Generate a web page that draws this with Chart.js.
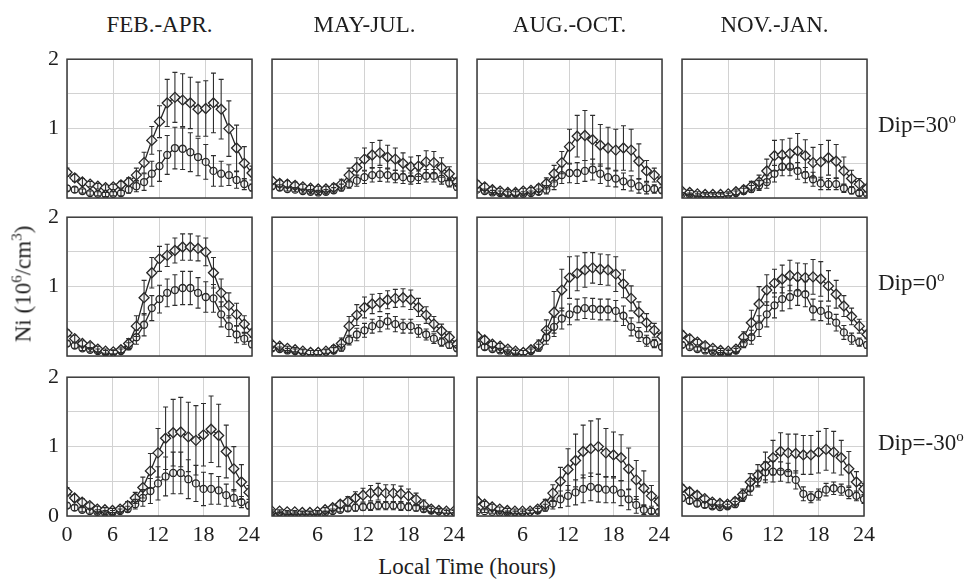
<!DOCTYPE html>
<html>
<head>
<meta charset="utf-8">
<script src="https://cdn.jsdelivr.net/npm/chart.js@4/dist/chart.umd.min.js"></script>
<style>
  body { margin: 0; background: #fff; }
  #page { position: relative; width: 970px; height: 579px; overflow: hidden; font-family: 'Liberation Serif', 'Times New Roman', serif; color: #1e1e1e; }
  .panel { position: absolute; }
  .lbl { position: absolute; font-size: 23px; white-space: nowrap; line-height: 1; }
  .lbl sup { font-size: 15px; vertical-align: 9px; }
</style>
</head>
<body>
<div id="page"></div>
<script>
// local time, hours
var hours = [0,1,2,3,4,5,6,7,8,9,10,11,12,13,14,15,16,17,18,19,20,21,22,23,24];
var seasons = ['FEB.-APR.', 'MAY-JUL.', 'AUG.-OCT.', 'NOV.-JAN.'];
var dips = ['30', '0', '-30'];

// Dip = 30
var feb30Hi    = [0.37,0.29,0.23,0.20,0.17,0.15,0.16,0.19,0.23,0.33,0.51,0.83,1.10,1.37,1.45,1.41,1.37,1.28,1.29,1.37,1.28,1.00,0.72,0.50,0.36];
var feb30HiErr = [0.06,0.05,0.05,0.04,0.04,0.04,0.04,0.05,0.06,0.10,0.15,0.20,0.23,0.34,0.36,0.38,0.37,0.39,0.40,0.43,0.43,0.40,0.33,0.24,0.10];
var feb30Lo    = [0.14,0.12,0.10,0.07,0.06,0.05,0.06,0.07,0.12,0.17,0.23,0.35,0.46,0.62,0.72,0.71,0.66,0.59,0.52,0.39,0.35,0.33,0.26,0.20,0.15];
var feb30LoErr = [0.04,0.04,0.03,0.03,0.03,0.03,0.03,0.04,0.05,0.08,0.12,0.18,0.22,0.28,0.30,0.30,0.28,0.27,0.25,0.22,0.18,0.15,0.12,0.08,0.05];

var may30Hi    = [0.25,0.21,0.20,0.18,0.16,0.14,0.13,0.13,0.15,0.20,0.33,0.44,0.56,0.62,0.65,0.59,0.56,0.50,0.45,0.46,0.52,0.51,0.44,0.35,0.23];
var may30HiErr = [0.05,0.05,0.05,0.05,0.04,0.04,0.04,0.04,0.05,0.07,0.10,0.14,0.16,0.18,0.18,0.17,0.16,0.15,0.14,0.15,0.16,0.16,0.14,0.10,0.06];
var may30Lo    = [0.17,0.15,0.13,0.12,0.10,0.09,0.08,0.09,0.11,0.15,0.20,0.25,0.30,0.33,0.34,0.33,0.31,0.30,0.28,0.30,0.32,0.32,0.28,0.22,0.16];
var may30LoErr = [0.04,0.04,0.03,0.03,0.03,0.03,0.03,0.03,0.04,0.05,0.06,0.08,0.09,0.10,0.10,0.10,0.09,0.09,0.08,0.09,0.09,0.09,0.08,0.06,0.05];

var aug30Hi    = [0.20,0.16,0.12,0.10,0.08,0.08,0.10,0.11,0.14,0.21,0.35,0.51,0.74,0.89,0.90,0.84,0.76,0.72,0.69,0.72,0.69,0.53,0.39,0.33,0.25];
var aug30HiErr = [0.05,0.05,0.04,0.04,0.04,0.04,0.04,0.04,0.05,0.08,0.12,0.16,0.25,0.30,0.36,0.35,0.30,0.30,0.30,0.32,0.30,0.25,0.15,0.10,0.06];
var aug30Lo    = [0.12,0.10,0.08,0.07,0.06,0.06,0.06,0.07,0.09,0.12,0.21,0.33,0.36,0.36,0.39,0.41,0.35,0.30,0.28,0.24,0.21,0.17,0.14,0.13,0.11];
var aug30LoErr = [0.03,0.03,0.03,0.03,0.03,0.03,0.03,0.03,0.04,0.06,0.09,0.12,0.14,0.15,0.15,0.15,0.14,0.13,0.12,0.12,0.11,0.10,0.08,0.06,0.04];

var nov30Hi    = [0.10,0.08,0.06,0.05,0.05,0.05,0.06,0.09,0.12,0.17,0.23,0.39,0.61,0.62,0.64,0.68,0.61,0.51,0.52,0.58,0.53,0.39,0.28,0.20,0.14];
var nov30HiErr = [0.03,0.03,0.03,0.03,0.03,0.03,0.03,0.04,0.05,0.07,0.10,0.17,0.22,0.22,0.22,0.25,0.23,0.22,0.25,0.25,0.24,0.20,0.12,0.08,0.05];
var nov30Lo    = [0.06,0.05,0.04,0.04,0.04,0.04,0.05,0.07,0.10,0.13,0.18,0.23,0.35,0.45,0.45,0.39,0.33,0.27,0.21,0.20,0.20,0.14,0.11,0.07,0.06];
var nov30LoErr = [0.02,0.02,0.02,0.02,0.02,0.02,0.02,0.03,0.04,0.05,0.07,0.09,0.12,0.13,0.13,0.12,0.11,0.10,0.09,0.08,0.08,0.06,0.05,0.04,0.03];

// Dip = 0
var feb0Hi    = [0.33,0.25,0.18,0.15,0.10,0.07,0.06,0.09,0.18,0.43,0.84,1.20,1.40,1.45,1.52,1.57,1.57,1.55,1.50,1.20,0.91,0.73,0.60,0.46,0.33];
var feb0HiErr = [0.05,0.05,0.04,0.04,0.04,0.03,0.03,0.04,0.07,0.15,0.25,0.22,0.18,0.16,0.18,0.19,0.19,0.18,0.20,0.22,0.20,0.18,0.16,0.12,0.06];
var feb0Lo    = [0.18,0.15,0.11,0.09,0.07,0.05,0.05,0.07,0.14,0.27,0.45,0.69,0.82,0.91,0.95,0.98,0.98,0.91,0.85,0.83,0.60,0.43,0.31,0.25,0.17];
var feb0LoErr = [0.04,0.04,0.03,0.03,0.03,0.03,0.03,0.03,0.05,0.10,0.16,0.18,0.20,0.20,0.22,0.24,0.24,0.22,0.22,0.20,0.18,0.15,0.12,0.08,0.05];

var may0Hi    = [0.17,0.14,0.11,0.09,0.07,0.05,0.05,0.07,0.10,0.18,0.43,0.59,0.70,0.75,0.77,0.81,0.83,0.84,0.81,0.70,0.59,0.46,0.36,0.27,0.17];
var may0HiErr = [0.04,0.04,0.03,0.03,0.03,0.03,0.03,0.03,0.05,0.08,0.14,0.15,0.15,0.14,0.13,0.13,0.13,0.13,0.14,0.13,0.12,0.11,0.10,0.08,0.05];
var may0Lo    = [0.11,0.10,0.08,0.07,0.06,0.05,0.05,0.06,0.08,0.12,0.23,0.31,0.37,0.43,0.46,0.50,0.46,0.43,0.43,0.36,0.31,0.25,0.20,0.16,0.11];
var may0LoErr = [0.03,0.03,0.03,0.03,0.03,0.03,0.03,0.03,0.04,0.05,0.07,0.09,0.10,0.10,0.11,0.11,0.11,0.10,0.10,0.09,0.08,0.07,0.06,0.05,0.04];

var aug0Hi    = [0.29,0.23,0.17,0.14,0.10,0.07,0.05,0.09,0.16,0.37,0.63,0.95,1.13,1.19,1.24,1.27,1.25,1.24,1.18,1.04,0.83,0.63,0.48,0.37,0.28];
var aug0HiErr = [0.05,0.05,0.04,0.04,0.03,0.03,0.03,0.04,0.07,0.15,0.30,0.30,0.30,0.25,0.25,0.22,0.22,0.22,0.25,0.20,0.18,0.15,0.13,0.10,0.06];
var aug0Lo    = [0.17,0.13,0.10,0.08,0.06,0.05,0.05,0.07,0.12,0.27,0.42,0.54,0.60,0.67,0.69,0.68,0.67,0.67,0.65,0.58,0.42,0.31,0.22,0.18,0.13];
var aug0LoErr = [0.04,0.04,0.03,0.03,0.03,0.03,0.03,0.03,0.05,0.10,0.14,0.15,0.15,0.15,0.15,0.15,0.15,0.15,0.15,0.14,0.13,0.10,0.08,0.06,0.04];

var nov0Hi    = [0.31,0.25,0.20,0.15,0.11,0.08,0.07,0.10,0.27,0.48,0.75,0.95,1.05,1.11,1.16,1.14,1.13,1.14,1.11,1.01,0.89,0.72,0.57,0.43,0.31];
var nov0HiErr = [0.05,0.05,0.04,0.04,0.03,0.03,0.03,0.04,0.08,0.18,0.25,0.22,0.20,0.20,0.22,0.20,0.20,0.25,0.25,0.22,0.20,0.15,0.12,0.10,0.06];
var nov0Lo    = [0.16,0.13,0.10,0.08,0.06,0.05,0.05,0.08,0.18,0.27,0.43,0.60,0.73,0.82,0.85,0.91,0.89,0.67,0.65,0.59,0.48,0.34,0.25,0.20,0.16];
var nov0LoErr = [0.04,0.03,0.03,0.03,0.03,0.03,0.03,0.03,0.06,0.10,0.15,0.18,0.18,0.17,0.17,0.18,0.18,0.15,0.14,0.13,0.12,0.10,0.08,0.06,0.05];

// Dip = -30
var febM30Hi    = [0.35,0.26,0.20,0.15,0.10,0.09,0.08,0.10,0.15,0.26,0.41,0.65,0.91,1.12,1.20,1.21,1.14,1.09,1.17,1.25,1.16,0.93,0.68,0.49,0.34];
var febM30HiErr = [0.06,0.05,0.05,0.04,0.04,0.03,0.03,0.04,0.06,0.08,0.15,0.25,0.35,0.45,0.48,0.50,0.50,0.50,0.45,0.48,0.45,0.38,0.32,0.25,0.10];
var febM30Lo    = [0.15,0.12,0.09,0.07,0.06,0.05,0.05,0.07,0.10,0.17,0.26,0.36,0.47,0.57,0.62,0.62,0.53,0.47,0.39,0.39,0.37,0.30,0.26,0.20,0.15];
var febM30LoErr = [0.04,0.04,0.03,0.03,0.03,0.03,0.03,0.03,0.04,0.07,0.12,0.18,0.24,0.28,0.30,0.30,0.28,0.26,0.24,0.22,0.20,0.16,0.12,0.08,0.05];

var mayM30Hi    = [0.07,0.07,0.06,0.06,0.05,0.05,0.06,0.09,0.12,0.17,0.21,0.26,0.30,0.33,0.35,0.33,0.33,0.32,0.29,0.24,0.16,0.10,0.08,0.07,0.07];
var mayM30HiErr = [0.02,0.02,0.02,0.02,0.02,0.02,0.02,0.03,0.04,0.05,0.07,0.09,0.10,0.11,0.12,0.12,0.12,0.11,0.10,0.09,0.07,0.04,0.03,0.03,0.02];
var mayM30Lo    = [0.05,0.05,0.04,0.04,0.04,0.04,0.04,0.05,0.07,0.09,0.11,0.12,0.13,0.14,0.15,0.15,0.15,0.14,0.13,0.12,0.10,0.08,0.07,0.06,0.06];
var mayM30LoErr = [0.02,0.02,0.02,0.02,0.02,0.02,0.02,0.02,0.03,0.03,0.04,0.05,0.05,0.06,0.06,0.06,0.06,0.06,0.05,0.05,0.04,0.03,0.03,0.02,0.02];

var augM30Hi    = [0.22,0.17,0.13,0.10,0.08,0.07,0.07,0.07,0.10,0.17,0.33,0.50,0.67,0.80,0.93,0.97,1.00,0.91,0.88,0.84,0.68,0.52,0.40,0.29,0.21];
var augM30HiErr = [0.05,0.04,0.04,0.03,0.03,0.03,0.03,0.03,0.04,0.07,0.12,0.20,0.30,0.38,0.38,0.40,0.40,0.35,0.33,0.33,0.30,0.28,0.25,0.15,0.06];
var augM30Lo    = [0.07,0.07,0.06,0.05,0.05,0.05,0.05,0.06,0.08,0.12,0.18,0.24,0.29,0.34,0.39,0.42,0.40,0.38,0.38,0.33,0.24,0.16,0.09,0.07,0.06];
var augM30LoErr = [0.02,0.02,0.02,0.02,0.02,0.02,0.02,0.02,0.03,0.05,0.08,0.12,0.15,0.18,0.20,0.20,0.20,0.19,0.19,0.18,0.15,0.12,0.07,0.04,0.03];

var novM30Hi    = [0.40,0.35,0.30,0.25,0.20,0.18,0.17,0.21,0.31,0.49,0.59,0.72,0.84,0.93,0.91,0.90,0.88,0.88,0.92,0.96,0.92,0.84,0.68,0.49,0.39];
var novM30HiErr = [0.05,0.05,0.05,0.04,0.04,0.04,0.04,0.05,0.08,0.12,0.15,0.20,0.25,0.27,0.27,0.28,0.28,0.28,0.30,0.30,0.30,0.25,0.25,0.15,0.08];
var novM30Lo    = [0.26,0.22,0.18,0.16,0.14,0.13,0.14,0.17,0.27,0.40,0.54,0.63,0.64,0.64,0.62,0.52,0.32,0.27,0.31,0.38,0.40,0.38,0.33,0.29,0.24];
var novM30LoErr = [0.05,0.04,0.04,0.04,0.03,0.03,0.03,0.04,0.06,0.10,0.12,0.15,0.15,0.14,0.14,0.13,0.10,0.08,0.08,0.09,0.09,0.08,0.08,0.07,0.06];

// rows = dip, columns = season
var panels = [
  [[feb30Hi, feb30HiErr, feb30Lo, feb30LoErr], [may30Hi, may30HiErr, may30Lo, may30LoErr],
   [aug30Hi, aug30HiErr, aug30Lo, aug30LoErr], [nov30Hi, nov30HiErr, nov30Lo, nov30LoErr]],
  [[feb0Hi, feb0HiErr, feb0Lo, feb0LoErr], [may0Hi, may0HiErr, may0Lo, may0LoErr],
   [aug0Hi, aug0HiErr, aug0Lo, aug0LoErr], [nov0Hi, nov0HiErr, nov0Lo, nov0LoErr]],
  [[febM30Hi, febM30HiErr, febM30Lo, febM30LoErr], [mayM30Hi, mayM30HiErr, mayM30Lo, mayM30LoErr],
   [augM30Hi, augM30HiErr, augM30Lo, augM30LoErr], [novM30Hi, novM30HiErr, novM30Lo, novM30LoErr]]
];

// panel frame positions on the page
var colLeft = [67, 272, 477, 682];
var rowTop = [52, 210, 370];
var plotW = 185, plotH = 146;
var padL = 40, padR = 14, padT = 14, padB = 30;

var tickFont = { family: "'Liberation Serif', 'Times New Roman', serif", size: 22 };

// draws the vertical error bars with small caps
var errorBars = {
  id: 'errorBars',
  afterDatasetsDraw: function (chart) {
    var ctx = chart.ctx, ys = chart.scales.y, a = chart.chartArea;
    ctx.save();
    ctx.beginPath();
    ctx.rect(a.left, a.top - 1, a.right - a.left, a.bottom - a.top + 2);
    ctx.clip();
    ctx.strokeStyle = '#2e2e2e';
    ctx.lineWidth = 1.1;
    chart.data.datasets.forEach(function (ds, i) {
      var meta = chart.getDatasetMeta(i);
      meta.data.forEach(function (pt, j) {
        var v = ds.data[j].y, e = ds.errors[j];
        var top = ys.getPixelForValue(v + e), bot = ys.getPixelForValue(v - e);
        ctx.beginPath();
        ctx.moveTo(pt.x, top); ctx.lineTo(pt.x, bot);
        ctx.moveTo(pt.x - 2.5, top); ctx.lineTo(pt.x + 2.5, top);
        ctx.moveTo(pt.x - 2.5, bot); ctx.lineTo(pt.x + 2.5, bot);
        ctx.stroke();
      });
    });
    ctx.restore();
  }
};

// box round each panel
var frame = {
  id: 'frame',
  afterDraw: function (chart) {
    var ctx = chart.ctx, a = chart.chartArea;
    ctx.save();
    ctx.strokeStyle = '#3a3a3a';
    ctx.lineWidth = 1.5;
    ctx.strokeRect(a.left, a.top, a.right - a.left, a.bottom - a.top);
    ctx.restore();
  }
};

function points(arr) {
  return hours.map(function (h, i) { return { x: h, y: arr[i] }; });
}

var page = document.getElementById('page');

function makePanel(r, c) {
  var d = panels[r][c];
  var box = document.createElement('div');
  box.className = 'panel';
  box.style.left = (colLeft[c] - padL) + 'px';
  box.style.top = (rowTop[r] - padT) + 'px';
  var cv = document.createElement('canvas');
  cv.width = plotW + padL + padR;
  cv.height = plotH + padT + padB;
  box.appendChild(cv);
  page.appendChild(box);

  new Chart(cv, {
    type: 'line',
    data: {
      datasets: [
        {
          data: points(d[0]), errors: d[1],
          borderColor: '#262626', borderWidth: 1.3, tension: 0,
          pointStyle: 'rectRot', pointRadius: 5,
          pointBorderColor: '#262626', pointBackgroundColor: '#f4f4f4', pointBorderWidth: 1.3
        },
        {
          data: points(d[2]), errors: d[3],
          borderColor: '#262626', borderWidth: 1.3, tension: 0,
          pointStyle: 'circle', pointRadius: 3.5,
          pointBorderColor: '#262626', pointBackgroundColor: '#f4f4f4', pointBorderWidth: 1.3
        }
      ]
    },
    options: {
      responsive: false,
      animation: false,
      layout: { padding: { left: 0, right: padR, top: padT, bottom: 0 } },
      plugins: { legend: { display: false }, tooltip: { enabled: false } },
      scales: {
        x: {
          type: 'linear', min: 0, max: 24,
          afterFit: function (s) { s.height = padB; },
          border: { display: false },
          grid: { color: '#d2d2d2', drawTicks: false },
          ticks: {
            stepSize: 6, padding: 6, autoSkip: false, maxRotation: 0,
            color: '#1e1e1e', font: tickFont,
            callback: function (v) {
              if (r !== 2) return '';
              if (v === 0 && c !== 0) return '';
              return String(v);
            }
          }
        },
        y: {
          min: 0, max: 2,
          afterFit: function (s) { s.width = padL; },
          border: { display: false },
          grid: { color: '#d2d2d2', drawTicks: false },
          ticks: {
            stepSize: 0.5, padding: 8,
            color: '#1e1e1e', font: tickFont,
            callback: function (v) {
              if (c !== 0) return '';
              if (v === 1 || v === 2) return String(v);
              if (v === 0 && r === 2) return '0';
              return '';
            }
          }
        }
      }
    },
    plugins: [errorBars, frame]
  });
}

for (var r = 0; r < 3; r++) {
  for (var c = 0; c < 4; c++) makePanel(r, c);
}

function addLabel(html, x, y, extra) {
  var el = document.createElement('div');
  el.className = 'lbl';
  el.innerHTML = html;
  el.style.left = x + 'px';
  el.style.top = y + 'px';
  el.style.transform = extra || 'translate(-50%, -50%)';
  page.appendChild(el);
}

// season titles over the columns
seasons.forEach(function (s, c) {
  addLabel(s, colLeft[c] + plotW / 2, 24);
});

// dip labels at the right
dips.forEach(function (d, r) {
  addLabel('Dip=' + d + '<sup>o</sup>', 878, rowTop[r] + plotH / 2 - 2, 'translate(0, -50%)');
});

addLabel('Local Time (hours)', 467, 566);
addLabel('Ni (10<sup>6</sup>/cm<sup>3</sup>)', 22, 284, 'translate(-50%, -50%) rotate(-90deg)');
</script>
</body>
</html>
